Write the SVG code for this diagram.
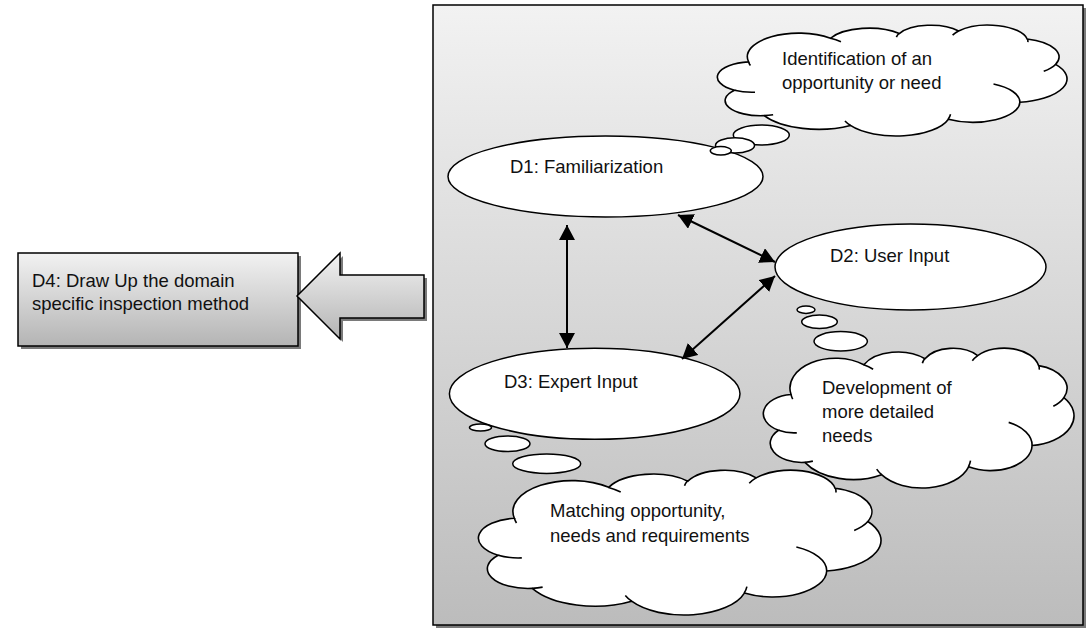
<svg xmlns="http://www.w3.org/2000/svg" xmlns:xlink="http://www.w3.org/1999/xlink" width="1090" height="632" viewBox="0 0 1090 632">
<defs>
<style>
.t{font-family:"Liberation Sans",Arial,sans-serif;font-size:18.5px;fill:#111}
.sh{fill:#7a7a7a}
.ol{stroke:#000;stroke-width:1.5}
.wh{fill:#fff;stroke:#000;stroke-width:1.5}
.cb{fill:#fff;stroke:#000;stroke-width:1.6;vector-effect:non-scaling-stroke}
.cc{fill:none;stroke:#000;stroke-width:1.6;vector-effect:non-scaling-stroke}
.cn{stroke:#000;stroke-width:2;fill:none}
</style>
<linearGradient id="gBox" x1="0" y1="0" x2="0" y2="1">
<stop offset="0" stop-color="#f2f2f2"/><stop offset="1" stop-color="#bcbcbc"/>
</linearGradient>
<linearGradient id="gD4" x1="0" y1="0" x2="0" y2="1">
<stop offset="0" stop-color="#f2f2f2"/><stop offset="1" stop-color="#b4b4b4"/>
</linearGradient>
<marker id="ah" markerUnits="userSpaceOnUse" markerWidth="16" markerHeight="16" refX="15" refY="8" orient="auto-start-reverse" viewBox="0 0 16 16">
<path d="M0,0 L15,8 L0,16 Z" fill="#000"/>
</marker>
<path id="cloudBody" class="cb" d="M1950,7185 A2172.5,2972.5 0 0 0 1080,12690 A2180,2959 0 0 0 2910,17640 A3860,5271.5 0 0 0 8235,19545 A3376,4607.5 0 0 0 14280,18330 A2892.5,3933.5 0 0 0 18690,15045 A3387.5,4610 0 0 0 20895,7665 A2666.5,3636.5 0 0 0 19140,2715 A2428.5,3297.5 0 0 0 14910,1170 A2182.5,2972.5 0 0 0 11250,1665 A2666.5,3633.5 0 0 0 7005,2580 A3161.5,4595 0 0 0 1950,7185 Z"/>
<path id="cloudCrease" class="cc" d="M2347,13089 A2172.5,2972.5 0 0 1 1078,12705 M3464,17450 A2180,2959 0 0 1 2912,17629 M8239,19545 A3376,4607.5 0 0 1 7896,18680 M14413,17376 A3376,4607.5 0 0 1 14267,18325 M17064,11477 A2892.5,3933.5 0 0 1 18692,15045 M20899,7677 A2666.5,3636.5 0 0 1 20164,9000 M19162,2713 A2428.5,3297.5 0 0 1 19186,3345 M14539,1976 A2428.5,3297.5 0 0 1 14906,1167 M11070,2360 A2182.5,2972.5 0 0 1 11222,1646 M7000,2596 A3376.5,4595 0 0 1 7649,3269 M2063,7894 A3376.5,4595 0 0 1 1950,7186"/>
</defs>

<g id="d4-node">
<rect class="sh" x="21" y="256" width="280" height="93"/>
<rect x="18" y="253" width="280" height="93" fill="url(#gD4)" class="ol"/>
<text class="t" x="32" y="287">D4: Draw Up the domain</text>
<text class="t" x="32" y="310">specific inspection method</text>
</g>

<g id="d4-arrow">
<polygon class="sh" points="300,299 343,256 343,278 427,278 427,321 343,321 343,342"/>
<polygon points="297,296 340,253 340,275 424,275 424,318 340,318 340,339" fill="url(#gD4)" class="ol" stroke-linejoin="miter"/>
</g>

<g id="container">
<rect class="sh" x="436" y="8" width="650" height="620"/>
<rect x="433" y="5" width="650" height="620" fill="url(#gBox)" class="ol"/>
</g>

<g id="cloud-identification">
<g transform="translate(717,25) scale(0.016204,0.0051389)">
<use xlink:href="#cloudBody"/><use xlink:href="#cloudCrease"/>
</g>
<text class="t" x="782" y="65">Identification of an</text>
<text class="t" x="782" y="89">opportunity or need</text>
</g>

<g id="d1">
<ellipse class="wh" cx="605.5" cy="176.5" rx="157.5" ry="40.5"/>
<text class="t" x="510" y="173">D1: Familiarization</text>
</g>

<g id="bubbles-1">
<ellipse class="wh" cx="761.3" cy="135" rx="28" ry="10"/>
<ellipse class="wh" cx="735" cy="145.4" rx="19.5" ry="7.6"/>
<ellipse class="wh" cx="720.8" cy="150.8" rx="10.5" ry="4.2"/>
</g>

<g id="d2">
<ellipse class="wh" cx="910.5" cy="267" rx="135.5" ry="43"/>
<text class="t" x="830" y="262">D2: User Input</text>
</g>

<g id="bubbles-2">
<ellipse class="wh" cx="806" cy="309.7" rx="9" ry="3.7"/>
<ellipse class="wh" cx="819.5" cy="321.7" rx="17.8" ry="6.7"/>
<ellipse class="wh" cx="840.7" cy="341.3" rx="26.7" ry="9.7"/>
</g>

<g id="cloud-development">
<g transform="translate(763,348) scale(0.014398,0.0064815)">
<use xlink:href="#cloudBody"/><use xlink:href="#cloudCrease"/>
</g>
<text class="t" x="822" y="394">Development of</text>
<text class="t" x="822" y="417.5">more detailed</text>
<text class="t" x="822" y="441.5">needs</text>
</g>

<g id="d3">
<ellipse class="wh" cx="594.7" cy="393.8" rx="145.3" ry="45.5"/>
<text class="t" x="504" y="388">D3: Expert Input</text>
</g>

<g id="bubbles-3">
<ellipse class="wh" cx="480.5" cy="427.5" rx="11" ry="3.6"/>
<ellipse class="wh" cx="507.5" cy="443.8" rx="22.5" ry="7.8"/>
<ellipse class="wh" cx="546.7" cy="463.7" rx="34" ry="9.7"/>
</g>

<g id="cloud-matching">
<g transform="translate(478,470) scale(0.018657,0.006713)">
<use xlink:href="#cloudBody"/><use xlink:href="#cloudCrease"/>
</g>
<text class="t" x="550" y="517">Matching opportunity,</text>
<text class="t" x="550" y="541.5">needs and requirements</text>
</g>

<g id="connectors">
<line class="cn" x1="567" y1="225" x2="567" y2="348" marker-start="url(#ah)" marker-end="url(#ah)"/>
<line class="cn" x1="678" y1="215" x2="775" y2="262" marker-start="url(#ah)" marker-end="url(#ah)"/>
<line class="cn" x1="775" y1="276" x2="682" y2="359" marker-start="url(#ah)" marker-end="url(#ah)"/>
</g>
</svg>
